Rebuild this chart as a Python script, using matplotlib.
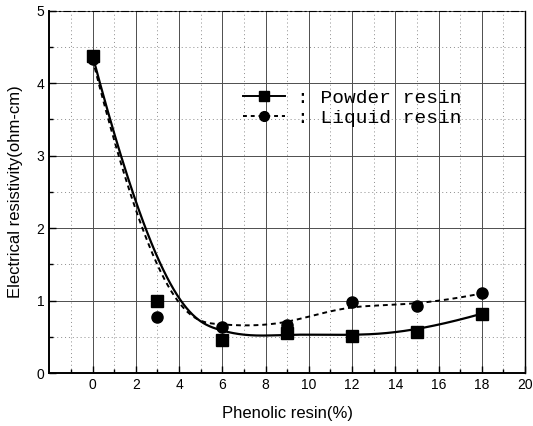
import matplotlib
matplotlib.use('Agg')
import matplotlib.pyplot as plt
import numpy as np

plt.rcParams['font.family'] = ['Liberation Sans', 'DejaVu Sans']

#Phenolic resin content (%)
resin = [0, 3, 6, 9, 12, 15, 18]
#Electrical resistivity (ohm-cm) for each binder type
powder = [4.38, 1.00, 0.46, 0.55, 0.51, 0.57, 0.82]
liquid = [4.33, 0.78, 0.64, 0.66, 0.985, 0.92, 1.10]


def bspline(px, py, n=400):
    #Clamped cubic B-spline using the data points as control points
    k = 3
    m = len(px)
    knots = np.concatenate([[0]*k, np.arange(m-k+1), [m-k]*k]).astype(float)
    t = np.linspace(0, m-k, n)
    N = np.zeros((n, len(knots)-1))
    for i in range(len(knots)-1):
        N[:, i] = (knots[i] <= t) & (t < knots[i+1])
    N[t == knots[-1], m-1] = 1
    for p in range(1, k+1):
        Nn = np.zeros((n, len(knots)-1-p))
        for i in range(len(knots)-1-p):
            d1 = knots[i+p]-knots[i]
            d2 = knots[i+p+1]-knots[i+1]
            a = (t-knots[i])/d1*N[:, i] if d1 > 0 else 0
            b = (knots[i+p+1]-t)/d2*N[:, i+1] if d2 > 0 else 0
            Nn[:, i] = a+b
        N = Nn
    return N @ np.asarray(px, float), N @ np.asarray(py, float)


fig = plt.figure(figsize=(5.33, 4.26), dpi=100)
ax = fig.add_axes([0.0925, 0.124, 0.8925, 0.851])

#Smoothed curves
xs, ys = bspline(resin, powder)
ax.plot(xs, ys, color='black', lw=1.6, zorder=3)
xs, ys = bspline(resin, liquid)
ax.plot(xs, ys, color='black', lw=1.4, ls=(0, (2.5, 2)), zorder=3)

#Data points
ax.plot(resin, powder, 's', color='black', ms=8.5, zorder=4)
ax.plot(resin, liquid, 'o', color='black', ms=8, zorder=4)

#Legend entries
h1, = ax.plot([], [], color='black', lw=1.4, marker='s', ms=7)
h2, = ax.plot([], [], color='black', lw=1.4, ls=(0, (2, 2)), marker='o', ms=7)
ax.legend([h1, h2], [': Powder resin', ': Liquid resin'],
          prop={'family': 'Liberation Mono', 'size': 14},
          frameon=False, loc='upper left', bbox_to_anchor=(0.39, 0.805),
          handlelength=2.2, handletextpad=0.6, labelspacing=0.15,
          borderaxespad=0)

#Formatting plot
ax.set_xlim(-2, 20)
ax.set_ylim(0, 5)
ax.set_xticks(np.arange(0, 21, 2))
ax.set_xticks(np.arange(-1, 20, 2), minor=True)
ax.set_yticks(np.arange(0, 6, 1))
ax.set_yticks(np.arange(0.5, 5, 1), minor=True)
ax.tick_params(which='both', direction='in', labelsize=10)
ax.tick_params(which='major', length=5, width=1)
ax.tick_params(which='minor', length=3, width=1)
ax.grid(which='major', color='0.3', lw=0.7, ls='-')
ax.grid(which='minor', color='0.55', lw=0.7, ls=(0, (1, 3)))
ax.set_axisbelow(True)
for s in ['left', 'bottom']:
    ax.spines[s].set_linewidth(1.4)
ax.spines['right'].set_linewidth(1.0)
ax.spines['top'].set_linewidth(0.8)
ax.spines['top'].set_linestyle((0, (6, 3, 1, 3)))

ax.set_xlabel('Phenolic resin(%)', fontsize=12, labelpad=10)
ax.set_ylabel('Electrical resistivity(ohm-cm)', fontsize=12, labelpad=10)

fig.savefig('out.png', dpi=100)
